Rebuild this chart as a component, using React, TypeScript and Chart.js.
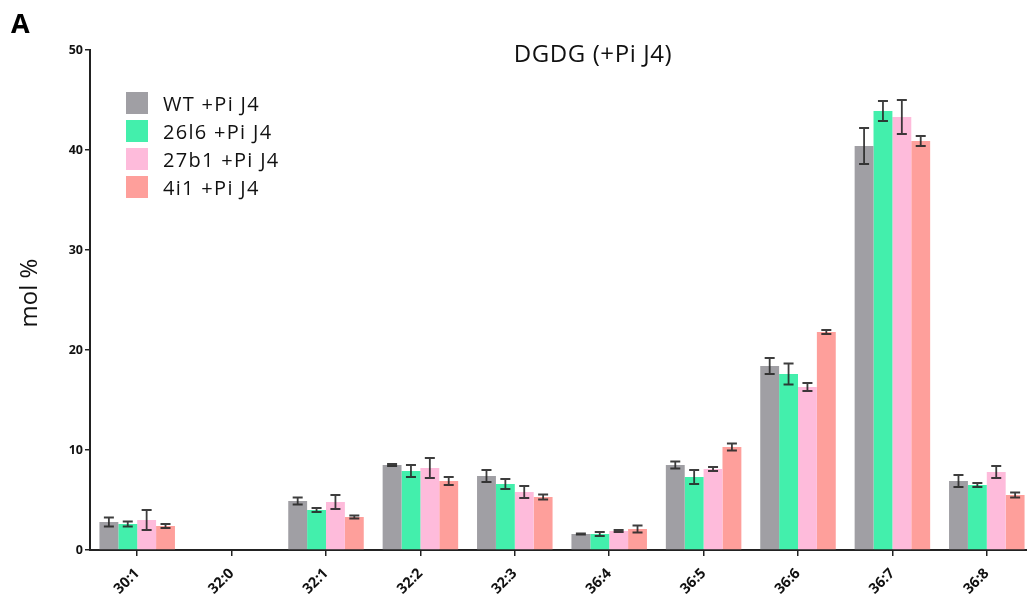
import React, { useEffect, useRef } from 'react';
import { Chart, registerables } from 'chart.js';

Chart.register(...registerables);

const categories = ['30:1', '32:0', '32:1', '32:2', '32:3', '36:4', '36:5', '36:6', '36:7', '36:8'];
const seriesLabels = ['WT +Pi J4', '26l6 +Pi J4', '27b1 +Pi J4', '4i1 +Pi J4'];
const seriesColors = ['#A09FA4', '#43EFAC', '#FEBBDB', '#FE9F9B'];

const wtValues = [2.8, 0, 4.9, 8.5, 7.4, 1.6, 8.5, 18.4, 40.4, 6.9];
const wtErrors = [0.45, 0, 0.35, 0.1, 0.6, 0.05, 0.35, 0.8, 1.8, 0.6];
const l26Values = [2.6, 0, 4.0, 7.9, 6.6, 1.6, 7.3, 17.6, 43.9, 6.5];
const l26Errors = [0.25, 0, 0.2, 0.6, 0.5, 0.2, 0.7, 1.05, 1.0, 0.2];
const b27Values = [3.0, 0, 4.8, 8.2, 5.8, 1.9, 8.1, 16.3, 43.3, 7.8];
const b27Errors = [1.0, 0, 0.7, 1.0, 0.6, 0.1, 0.2, 0.4, 1.7, 0.6];
const i4Values = [2.4, 0, 3.3, 6.9, 5.3, 2.1, 10.3, 21.8, 40.9, 5.5];
const i4Errors = [0.2, 0, 0.15, 0.4, 0.25, 0.35, 0.35, 0.2, 0.5, 0.25];

const allValues = [wtValues, l26Values, b27Values, i4Values];
const allErrors = [wtErrors, l26Errors, b27Errors, i4Errors];

const yTicks = [0, 10, 20, 30, 40, 50];
const chartTitle = 'DGDG (+Pi J4)';
const panelLabel = 'A';
const yTitle = 'mol %';

const FONT = "'Open Sans', 'DejaVu Sans', sans-serif";

const errorBarPlugin = {
  id: 'errorBars',
  afterDatasetsDraw(chart: any) {
    const ctx = chart.ctx;
    const yScale = chart.scales.y;
    ctx.save();
    ctx.strokeStyle = 'rgba(40,40,40,0.9)';
    ctx.lineWidth = 1.8;
    chart.data.datasets.forEach((ds: any, di: number) => {
      const meta = chart.getDatasetMeta(di);
      const errs = allErrors[di];
      meta.data.forEach((bar: any, i: number) => {
        const v = ds.data[i];
        const e = errs[i];
        if (!v) return;
        const x = bar.x;
        const yT = yScale.getPixelForValue(v + e);
        const yB = yScale.getPixelForValue(v - e);
        const cap = 5;
        ctx.beginPath();
        ctx.moveTo(x, yT);
        ctx.lineTo(x, yB);
        ctx.moveTo(x - cap, yT);
        ctx.lineTo(x + cap, yT);
        ctx.moveTo(x - cap, yB);
        ctx.lineTo(x + cap, yB);
        ctx.stroke();
      });
    });
    ctx.restore();
  },
  afterDraw(chart: any) {
    const ctx = chart.ctx;
    ctx.save();
    // panel label
    ctx.fillStyle = '#000';
    ctx.font = `bold 27px ${FONT}`;
    ctx.textAlign = 'left';
    ctx.textBaseline = 'alphabetic';
    ctx.fillText(panelLabel, 11, 33);
    // title
    ctx.font = `24px ${FONT}`;
    (ctx as any).letterSpacing = '0.6px';
    ctx.textAlign = 'center';
    ctx.textBaseline = 'alphabetic';
    ctx.fillStyle = '#111';
    ctx.fillText(chartTitle, 593, 62);
    (ctx as any).letterSpacing = '0px';
    // y title
    ctx.save();
    ctx.translate(30, 293);
    ctx.rotate(-Math.PI / 2);
    ctx.font = `24px ${FONT}`;
    ctx.textAlign = 'center';
    ctx.textBaseline = 'middle';
    ctx.fillText(yTitle, 0, 0);
    ctx.restore();
    // legend
    ctx.font = `20px ${FONT}`;
    (ctx as any).letterSpacing = '1.3px';
    ctx.textAlign = 'left';
    ctx.textBaseline = 'alphabetic';
    chart.data.datasets.forEach((ds: any, i: number) => {
      const cy = 103 + i * 28;
      ctx.fillStyle = ds.backgroundColor;
      ctx.fillRect(126, cy - 11, 22, 22);
      ctx.fillStyle = '#111';
      ctx.fillText(ds.label, 163, cy + 8);
    });
    (ctx as any).letterSpacing = '0px';
    ctx.restore();
  },
};

export default function App() {
  const ref = useRef<HTMLCanvasElement>(null);
  useEffect(() => {
    if (!ref.current) return;
    const chart = new Chart(ref.current, {
      type: 'bar',
      data: {
        labels: categories,
        datasets: seriesLabels.map((label, i) => ({
          label,
          data: allValues[i],
          backgroundColor: seriesColors[i],
          borderWidth: 0,
          categoryPercentage: 0.8,
          barPercentage: 1.0,
        })),
      },
      options: {
        animation: false,
        responsive: false,
        layout: { padding: { left: 0, right: 6, top: 50, bottom: 0 } },
        plugins: {
          legend: { display: false },
          title: { display: false },
          tooltip: { enabled: false },
        },
        scales: {
          x: {
            offset: true,
            grid: {
              offset: false,
              drawOnChartArea: false,
              drawTicks: true,
              tickLength: 6,
              color: '#222',
              lineWidth: 1.5,
            },
            border: { display: true, color: '#222', width: 2 },
            ticks: {
              minRotation: 45,
              maxRotation: 45,
              color: '#111',
              font: { family: FONT, size: 14.5, weight: 'bold' },
              padding: 9,
            },
            afterFit(scale: any) {
              scale.height = 51;
            },
          },
          y: {
            min: 0,
            max: 50,
            afterBuildTicks(scale: any) {
              scale.ticks = yTicks.map((v) => ({ value: v }));
            },
            grid: {
              drawOnChartArea: false,
              drawTicks: true,
              tickLength: 5,
              color: '#222',
              lineWidth: 1.5,
            },
            border: { display: true, color: '#222', width: 2 },
            ticks: {
              color: '#111',
              font: { family: FONT, size: 12.5, weight: 'bold' },
              padding: 2,
            },
            afterFit(scale: any) {
              scale.width = 90;
            },
          },
        },
      },
      plugins: [errorBarPlugin],
    });
    return () => chart.destroy();
  }, []);
  return (
    <div style={{ position: 'absolute', left: 0, top: 0, width: 1027, height: 601, overflow: 'hidden', background: '#fff' }}>
      <canvas ref={ref} width={1040} height={601} style={{ display: 'block' }} />
    </div>
  );
}
